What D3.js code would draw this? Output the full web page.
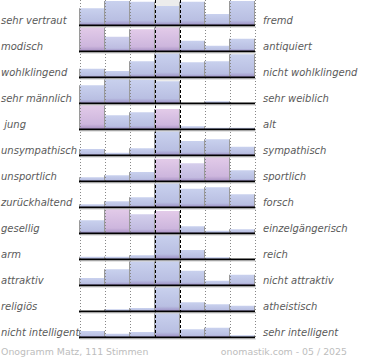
<!DOCTYPE html>
<html><head><meta charset="utf-8">
<script src="https://cdn.jsdelivr.net/npm/d3@7"></script>
<style>html,body{margin:0;padding:0;background:#fff}svg{display:block}</style>
</head><body><svg id="c" width="370" height="360"></svg>
<script>
const leftLabels = ["sehr vertraut","modisch","wohlklingend","sehr männlich"," jung","unsympathisch","unsportlich","zurückhaltend","gesellig","arm","attraktiv","religiös","nicht intelligent"];
const rightLabels = ["fremd","antiquiert","nicht wohlklingend","sehr weiblich","alt","sympathisch","sportlich","forsch","einzelgängerisch","reich","nicht attraktiv","atheistisch","sehr intelligent"];
// bar heights per row, 7 scale steps (0..100 = full cell)
const votes = [
  [67,96,93,76,93,44,96],
  [95,57,87,95,41,21,49],
  [33,24,63,95,59,63,91],
  [71,96,93,87,0,7,0],
  [97,55,67,80,11,5,5],
  [24,9,27,95,56,63,33],
  [15,23,36,89,71,97,43],
  [11,23,39,95,73,79,51],
  [51,97,75,88,27,9,15],
  [9,9,15,100,36,7,0],
  [28,63,95,97,57,17,41],
  [0,7,12,95,35,27,21],
  [24,13,20,98,31,37,7]
];
// colour tone per bar: 0 = blue, 1 = pink
const tones = [
  [0,0,0,0,0,0,0],
  [1,0.2,1,1,0,0,0],
  [0,0,0,0,0,0,0],
  [0,0,0,0,0,0,0],
  [1,0,0,1,0,0,0],
  [0,0,0,0,0,0,0],
  [0,0,0,1,0.5,1,0],
  [0,0,0,0,0,0,0],
  [0,1,0.4,1,0,0,0],
  [0,0,0,0,0,0,0],
  [0,0,0,0,0,0,0],
  [0,0,0,0,0,0,0],
  [0,0,0,0,0,0,0]
];
// light grey cap above the middle bar (top level, 0 = none)
const middleCap = [100,0,0,100,0,0,0,0,0,0,0,0,0];
const footerLeft = "Onogramm Matz, 111 Stimmen";
const footerRight = "onomastik.com - 05 / 2025";

const svg = d3.select("#c");
const cols = d3.range(7);
const rows = d3.range(leftLabels.length);
const x = d3.scaleBand().domain(cols).range([79.5, 254.5]).padding(0);
const yBase = d3.scalePoint().domain(rows).range([25, 337]);
const h = d3.scaleLinear().domain([0, 100]).range([0, 25]);

// gradients
const defs = svg.append("defs");
const toneSet = Array.from(new Set(tones.flat()));
const topCol = d3.interpolateRgb("#c9d1ee", "#e3cbe9");
const midCol = d3.interpolateRgb("#b9bfe2", "#cdb6dd");
const botCol = d3.interpolateRgb("#9d90c5", "#a892c4");
const gid = t => "g" + String(t).replace(".", "_");
toneSet.forEach(t => {
  const g = defs.append("linearGradient").attr("id", gid(t)).attr("x1",0).attr("y1",0).attr("x2",0).attr("y2",1);
  g.append("stop").attr("offset","0%").attr("stop-color", topCol(t));
  g.append("stop").attr("offset","80%").attr("stop-color", midCol(t));
  g.append("stop").attr("offset","100%").attr("stop-color", botCol(t));
});

const gBars = svg.append("g");
rows.forEach(r => {
  const b = yBase(r);
  if (middleCap[r] > 0) {
    gBars.append("rect").attr("x", x(3)).attr("width", x.bandwidth())
      .attr("y", b - h(middleCap[r])).attr("height", h(middleCap[r]) - h(votes[r][3]))
      .attr("fill", "#ececec");
  }
  cols.forEach(c => {
    const v = votes[r][c];
    if (v <= 0) return;
    gBars.append("rect").attr("x", x(c)).attr("width", x.bandwidth())
      .attr("y", b - h(v)).attr("height", h(v))
      .attr("fill", `url(#${gid(tones[r][c])})`);
    [x(c), x(c) + x.bandwidth()].forEach(xx => {
      gBars.append("line").attr("x1", xx).attr("x2", xx)
        .attr("y1", b - h(v)).attr("y2", b).attr("stroke", "#9a9a9a").attr("stroke-width", 1);
    });
  });
});

// vertical grid
const bounds = [0,1,2,3,4,5,6,7].map(i => i < 7 ? x(i) : x(6) + x.bandwidth());
bounds.forEach((xx, i) => {
  const mid = (i === 3 || i === 4);
  svg.append("line").attr("x1", Math.round(xx) + 0.5).attr("x2", Math.round(xx) + 0.5)
    .attr("y1", 0).attr("y2", 338)
    .attr("stroke", mid ? "#000" : "#888").attr("stroke-width", 1)
    .attr("stroke-dasharray", mid ? "3,2" : "1,2");
});

// row baselines
rows.forEach(r => {
  const b = yBase(r);
  svg.append("line").attr("x1", 79).attr("x2", 255).attr("y1", b + 0.5).attr("y2", b + 0.5)
    .attr("stroke", "#000").attr("stroke-width", 2);
  svg.append("line").attr("x1", 80).attr("x2", 256).attr("y1", b + 2).attr("y2", b + 2)
    .attr("stroke", "#ccc").attr("stroke-width", 1);
});

// labels
const font = "'DejaVu Sans', sans-serif";
svg.append("g").selectAll("text").data(rows).join("text")
  .attr("x", 1).attr("y", r => yBase(r) - 1)
  .attr("font-family", font).attr("font-style", "italic").attr("font-size", "10px")
  .attr("fill", "#5a5a5a").attr("xml:space", "preserve").style("white-space", "pre")
  .text(r => leftLabels[r]);
svg.append("g").selectAll("text").data(rows).join("text")
  .attr("x", 263).attr("y", r => yBase(r) - 1)
  .attr("font-family", font).attr("font-style", "italic").attr("font-size", "10px")
  .attr("fill", "#5a5a5a")
  .text(r => rightLabels[r]);

svg.append("text").attr("x", 1).attr("y", 355)
  .attr("font-family", font).attr("font-size", "9.4px").attr("fill", "#bdbdbd").text(footerLeft);
svg.append("text").attr("x", 347).attr("y", 355).attr("text-anchor", "end")
  .attr("font-family", font).attr("font-size", "9.4px").attr("fill", "#bdbdbd").text(footerRight);
</script></body></html>
